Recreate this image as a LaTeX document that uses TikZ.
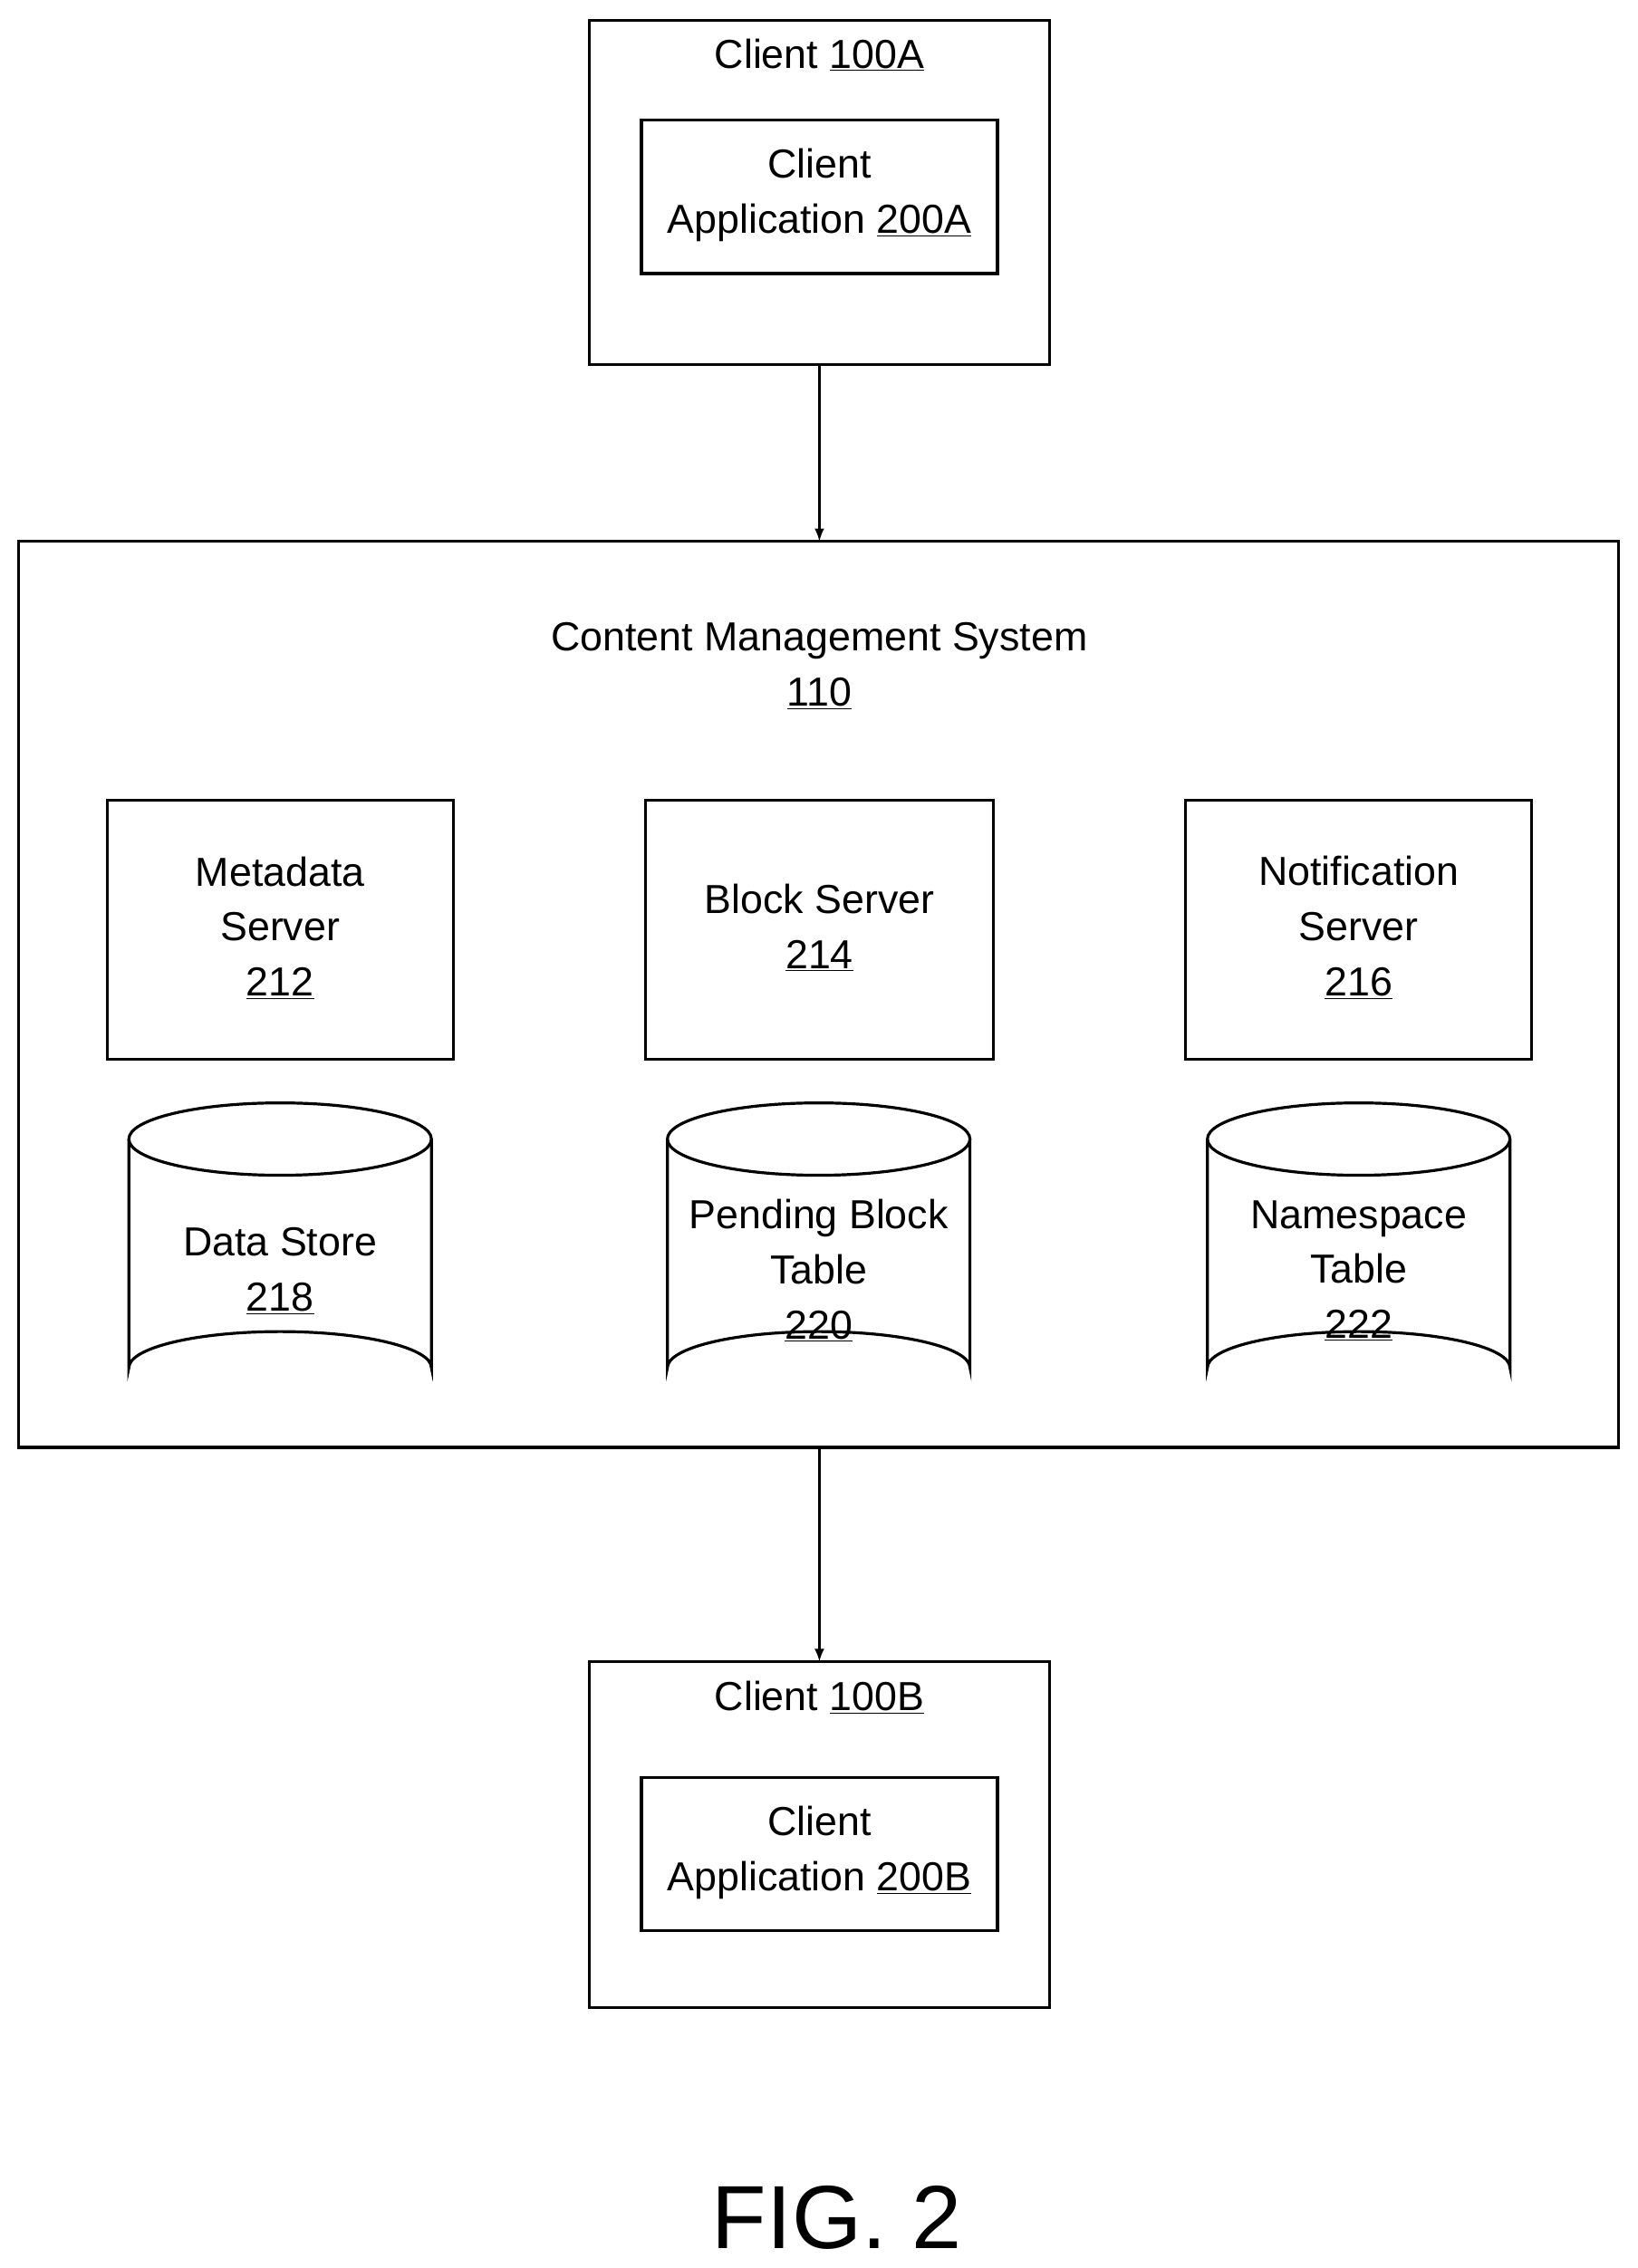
\documentclass[tikz,border=0pt]{standalone}
\usepackage{fontspec}
\setmainfont{Liberation Sans}
\begin{document}
\begin{tikzpicture}[x=1pt,y=-1pt,line width=2pt,
  lbl/.style={align=center,font=\fontsize{28}{38}\selectfont,inner sep=0pt},
  box/.style={draw,line width=2pt},
  arr/.style={->,>={latex},line width=2pt}]
\useasboundingbox (0,0) rectangle (1131,1567);
% Client A
\draw[box] (407,14) rectangle (725,252);
\coordinate (aBot) at (566,252);
\node[lbl] at (566,38) {Client \underline{100A}};
\draw[box] (443,83) rectangle (689,189);
\node[lbl] (appA) at (566,135) {Client\\Application \underline{200A}};
% CMS
\draw[box] (13,374) rectangle (1118,1000);
\coordinate (cTop) at (566,374);
\coordinate (cBot) at (566,1000);
\node[lbl] (cms) at (566,460) {Content Management System\\\underline{110}};
% servers
\draw[box] (74,553) rectangle (313,732);
\node[lbl] (ms) at (193.5,641) {Metadata\\Server\\\underline{212}};
\draw[box] (446,553) rectangle (686,732);
\node[lbl] (bs) at (566,641) {Block Server\\\underline{214}};
\draw[box] (819,553) rectangle (1058,732);
\node[lbl] (ns) at (938.5,641) {Notification\\Server\\\underline{216}};
% cylinders
\foreach \cx in {193.5,565.5,938.5}{
  \draw[line width=2pt,fill=white] (\cx-104.5,787) -- (\cx-104.5,945) arc[start angle=180,end angle=360,x radius=104.5,y radius=25] -- (\cx+104.5,787);
  \draw[line width=2pt] (\cx,787) ellipse[x radius=104.5,y radius=25];
}
\node[lbl] (ds) at (193.5,878) {Data Store\\\underline{218}};
\node[lbl] (pb) at (565.5,878) {Pending Block\\Table\\\underline{220}};
\node[lbl] (nt) at (938.5,878) {Namespace\\Table\\\underline{222}};
% Client B
\draw[box] (407,1148) rectangle (725,1387);
\coordinate (bTop) at (566,1148);
\node[lbl] at (566,1173) {Client \underline{100B}};
\draw[box] (443,1228) rectangle (689,1334);
\node[lbl] (appB) at (566,1280) {Client\\Application \underline{200B}};
% arrows
\draw[arr] (aBot) -- (cTop);
\draw[arr] (cBot) -- (bTop);
\node[lbl,font=\fontsize{62}{70}\selectfont] (fig) at (578,1532) {FIG. 2};
\end{tikzpicture}
\end{document}
